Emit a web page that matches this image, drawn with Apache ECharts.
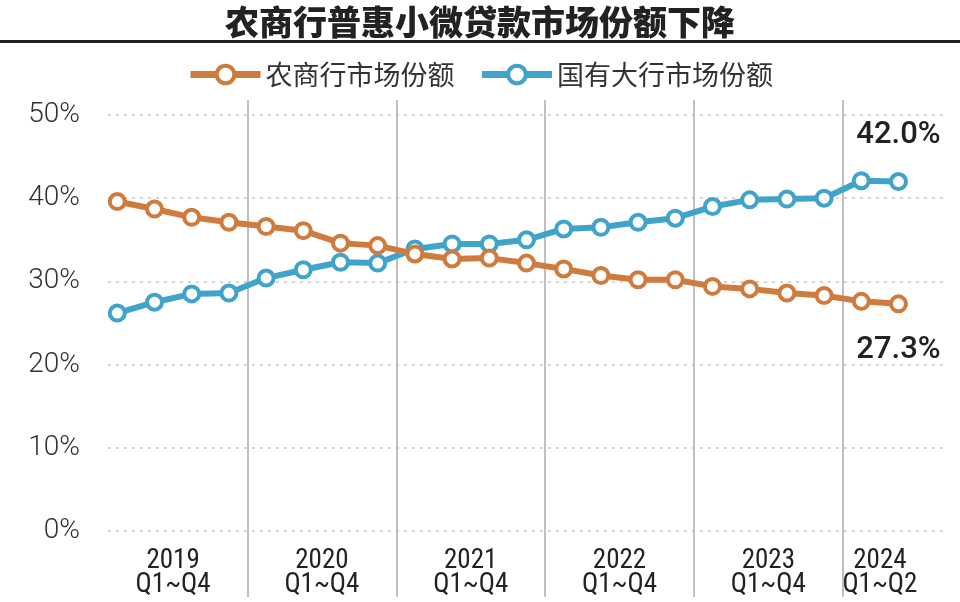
<!DOCTYPE html>
<html>
<head>
<meta charset="utf-8">
<script src="https://cdn.jsdelivr.net/npm/echarts@6/dist/echarts.min.js"></script>
<style>
  html, body { margin: 0; padding: 0; background: #fff; }
  #main { width: 960px; height: 602px; }
</style>
</head>
<body>
<div id="main"></div>
<script>
  // 季度
  const quarters = [
    '2019Q1', '2019Q2', '2019Q3', '2019Q4',
    '2020Q1', '2020Q2', '2020Q3', '2020Q4',
    '2021Q1', '2021Q2', '2021Q3', '2021Q4',
    '2022Q1', '2022Q2', '2022Q3', '2022Q4',
    '2023Q1', '2023Q2', '2023Q3', '2023Q4',
    '2024Q1', '2024Q2'
  ];
  // 农商行市场份额 (%)
  const ruralShare = [
    39.6, 38.7, 37.7, 37.1, 36.6, 36.1, 34.6, 34.3,
    33.3, 32.7, 32.8, 32.2, 31.5, 30.7, 30.2, 30.2,
    29.4, 29.1, 28.6, 28.3, 27.6, 27.3
  ];
  // 国有大行市场份额 (%)
  const stateShare = [
    26.2, 27.5, 28.5, 28.6, 30.4, 31.4, 32.3, 32.2,
    33.9, 34.5, 34.5, 35.0, 36.3, 36.5, 37.1, 37.6,
    39.0, 39.8, 39.9, 40.0, 42.1, 42.0
  ];
  // 年份标签
  const yearLabels = ['2019\nQ1~Q4', '2020\nQ1~Q4', '2021\nQ1~Q4', '2022\nQ1~Q4', '2023\nQ1~Q4', '2024\nQ1~Q2'];
  const yearCenters = [1.5, 5.5, 9.5, 13.5, 17.5, 20.5];
  const yearBreaks = [3.5, 7.5, 11.5, 15.5, 19.5];
  const yTicks = [0, 10, 20, 30, 40, 50];

  const cjk = '"Noto Sans CJK SC", "Noto Sans", sans-serif';
  const last = quarters.length - 1;

  var chartDom = document.getElementById('main');
  var myChart = echarts.init(chartDom);

  const xRange = { min: -0.25, max: quarters.length + 0.25 };

  function endLabel(pos) {
    return {
      show: true,
      position: pos,
      distance: 21,
      fontSize: 31,
      fontFamily: 'Roboto, sans-serif',
      fontWeight: 500,
      color: '#222',
      formatter: (p) => p.dataIndex === last ? p.value[1].toFixed(1) + '%' : ''
    };
  }

  var option = {
    animation: false,
    title: {
      text: '农商行普惠小微贷款市场份额下降',
      left: 'center',
      top: 0,
      textStyle: { fontFamily: cjk, fontSize: 34, fontWeight: 900, color: '#222' }
    },
    graphic: [{
      type: 'rect',
      shape: { x: 0, y: 40, width: 960, height: 3 },
      style: { fill: '#222' }
    }],
    legend: {
      top: 56,
      left: 'center',
      itemWidth: 70,
      itemHeight: 22,
      itemGap: 24,
      lineStyle: { width: 7 },
      itemStyle: { borderWidth: 4 },
      textStyle: { fontFamily: cjk, fontSize: 27, color: '#333' }
    },
    grid: { left: 108, right: 15, top: 115, bottom: 71 },
    xAxis: [{
      type: 'value',
      min: xRange.min,
      max: xRange.max,
      axisLine: { show: false },
      splitLine: { show: false },
      axisTick: {
        show: true,
        inside: true,
        length: 431,
        customValues: yearBreaks,
        lineStyle: { color: '#aaa', width: 1.5 }
      },
      axisLabel: {
        customValues: yearCenters,
        margin: 18,
        fontSize: 27,
        lineHeight: 24,
        fontFamily: '"Roboto Condensed", "DejaVu Sans Condensed", "Liberation Sans Narrow", Roboto, sans-serif',
        color: '#222',
        formatter: (v) => yearLabels[yearCenters.indexOf(v)] || ''
      }
    }, {
      type: 'value',
      position: 'bottom',
      min: xRange.min,
      max: xRange.max,
      axisLine: { show: false },
      splitLine: { show: false },
      axisLabel: { show: false },
      axisTick: {
        show: true,
        inside: false,
        length: 66,
        customValues: yearBreaks,
        lineStyle: { color: '#aaa', width: 1.5 }
      }
    }],
    yAxis: {
      type: 'value',
      min: yTicks[0],
      max: yTicks[yTicks.length - 1],
      interval: 10,
      axisLine: { show: false },
      axisTick: { show: false },
      axisLabel: {
        formatter: '{value}%',
        margin: 28,
        fontSize: 28,
        fontFamily: 'Roboto, sans-serif',
        fontWeight: 300,
        color: '#333'
      },
      splitLine: {
        lineStyle: { color: '#c8c8c8', width: 1.5, type: [3, 5] }
      }
    },
    series: [{
      name: '农商行市场份额',
      type: 'line',
      data: ruralShare.map((v, i) => [i, v]),
      symbol: 'circle',
      symbolSize: 15,
      showAllSymbol: true,
      color: '#d07b3e',
      lineStyle: { width: 6, color: '#d07b3e' },
      itemStyle: { color: '#fff', borderColor: '#d07b3e', borderWidth: 4 },
      label: endLabel('bottom'),
      z: 3
    }, {
      name: '国有大行市场份额',
      type: 'line',
      data: stateShare.map((v, i) => [i, v]),
      symbol: 'circle',
      symbolSize: 15,
      showAllSymbol: true,
      color: '#40a4ca',
      lineStyle: { width: 6, color: '#40a4ca' },
      itemStyle: { color: '#fff', borderColor: '#40a4ca', borderWidth: 4 },
      label: endLabel('top'),
      z: 2
    }]
  };

  option && myChart.setOption(option);

  window.addEventListener('resize', () => {
    myChart.resize();
  });
</script>
</body>
</html>
